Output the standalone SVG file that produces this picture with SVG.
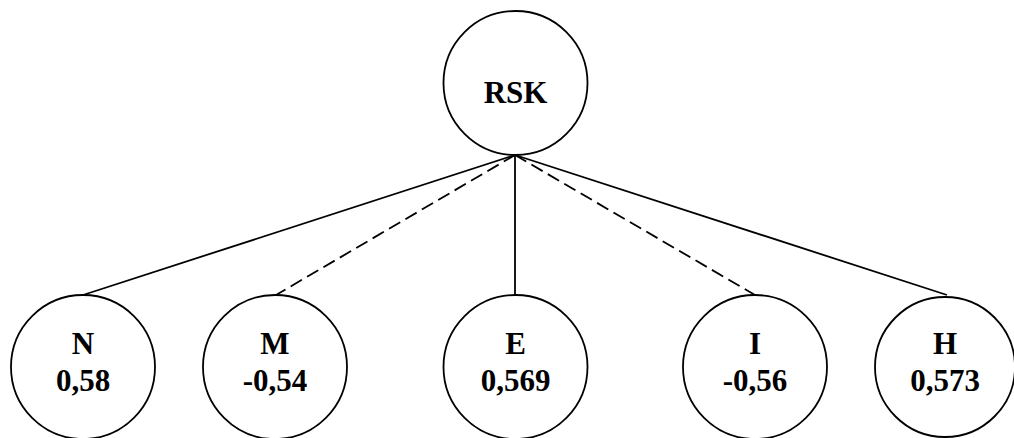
<svg xmlns="http://www.w3.org/2000/svg" width="1014" height="438" viewBox="0 0 1014 438">
  <style>
    .node { fill: #ffffff; stroke: #000000; stroke-width: 1.8; }
    .edge { stroke: #000000; stroke-width: 1.8; fill: none; }
    .dash { stroke-dasharray: 13 6; }
    .lbl { font-family: "Liberation Serif", "Times New Roman", serif; font-weight: bold; font-size: 31px; fill: #000000; text-anchor: middle; }
  </style>
  <rect width="1014" height="438" fill="#ffffff"/>
  <g id="connectors">
    <line class="edge" x1="515" y1="155" x2="83" y2="295"/>
    <line class="edge dash" x1="515" y1="155" x2="276" y2="295"/>
    <line class="edge" x1="515" y1="155" x2="515" y2="295"/>
    <line class="edge dash" x1="515" y1="155" x2="755" y2="295"/>
    <line class="edge" x1="515" y1="155" x2="947" y2="295"/>
  </g>
  <g id="node-rsk">
    <circle class="node" cx="515.5" cy="83" r="72"/>
    <text class="lbl" x="515.5" y="103">RSK</text>
  </g>
  <g id="node-n">
    <circle class="node" cx="83" cy="367" r="72"/>
    <text class="lbl" x="83" y="354">N</text>
    <text class="lbl" x="83" y="391">0,58</text>
  </g>
  <g id="node-m">
    <circle class="node" cx="275" cy="367" r="72"/>
    <text class="lbl" x="275" y="354">M</text>
    <text class="lbl" x="275" y="391">-0,54</text>
  </g>
  <g id="node-e">
    <circle class="node" cx="515.5" cy="367" r="72"/>
    <text class="lbl" x="515.5" y="354">E</text>
    <text class="lbl" x="515.5" y="391">0,569</text>
  </g>
  <g id="node-i">
    <circle class="node" cx="755" cy="367" r="72"/>
    <text class="lbl" x="755" y="354">I</text>
    <text class="lbl" x="755" y="391">-0,56</text>
  </g>
  <g id="node-h">
    <circle class="node" cx="945" cy="367" r="70"/>
    <text class="lbl" x="945" y="354">H</text>
    <text class="lbl" x="945" y="391">0,573</text>
  </g>
</svg>
